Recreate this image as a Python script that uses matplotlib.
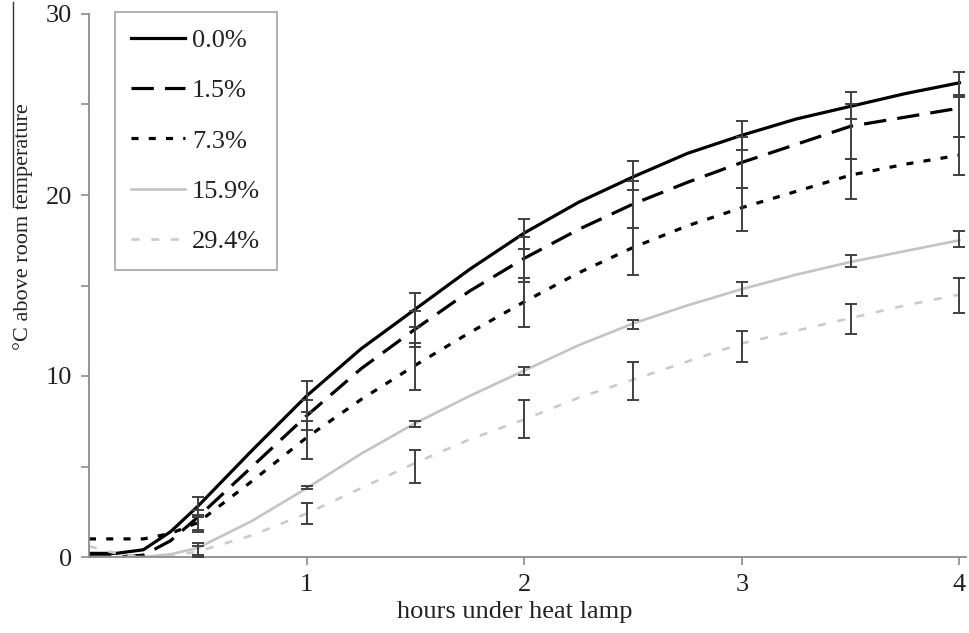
import matplotlib
matplotlib.use("Agg")
import matplotlib.pyplot as plt
from matplotlib.lines import Line2D
import numpy as np

plt.rcParams['font.family'] = ['Liberation Serif', 'DejaVu Serif']

# ---- data ----
curve_hours = [0, 0.125, 0.25, 0.375, 0.5, 0.75, 1, 1.25, 1.5, 1.75, 2,
               2.25, 2.5, 2.75, 3, 3.25, 3.5, 3.75, 4]
curve_00 = [0.2, 0.2, 0.4, 1.4, 2.8, 5.9, 8.9, 11.5, 13.7, 15.9, 17.9,
            19.6, 21.0, 22.3, 23.3, 24.2, 24.9, 25.6, 26.2]
curve_15 = [0.1, 0.0, 0.1, 0.9, 2.2, 5.0, 7.8, 10.4, 12.6, 14.7, 16.5,
            18.1, 19.5, 20.7, 21.8, 22.8, 23.8, 24.3, 24.8]
curve_73 = [1.0, 1.0, 1.0, 1.3, 1.9, 4.2, 6.6, 8.7, 10.6, 12.4, 14.1,
            15.7, 17.1, 18.3, 19.3, 20.2, 21.1, 21.7, 22.2]
curve_159 = [0.0, 0.0, 0.0, 0.15, 0.5, 2.0, 3.8, 5.7, 7.4, 8.9, 10.3,
             11.7, 12.9, 13.9, 14.8, 15.6, 16.3, 16.9, 17.5]
curve_294 = [0.6, 0.2, 0.0, 0.05, 0.3, 1.2, 2.4, 3.8, 5.2, 6.5, 7.6,
             8.8, 9.8, 10.8, 11.8, 12.5, 13.2, 13.9, 14.5]

bar_hours = [0.5, 1, 1.5, 2, 2.5, 3, 3.5, 4]
lo_00 = [2.2, 8.0, 12.7, 17.0, 20.3, 22.5, 24.2, 25.5]
hi_00 = [3.3, 9.7, 14.6, 18.7, 21.9, 24.1, 25.7, 26.8]
lo_15 = [1.4, 7.0, 11.6, 15.2, 18.2, 20.4, 22.0, 23.2]
hi_15 = [2.6, 8.7, 13.6, 17.7, 20.8, 23.2, 25.0, 25.4]
lo_73 = [1.5, 5.4, 9.2, 12.7, 15.6, 18.0, 19.8, 21.1]
hi_73 = [2.3, 7.5, 11.8, 15.4, 18.2, 20.4, 22.0, 23.2]
lo_159 = [0.1, 3.75, 7.2, 10.05, 12.6, 14.4, 16.0, 17.1]
hi_159 = [0.8, 3.95, 7.5, 10.5, 13.1, 15.2, 16.7, 18.0]
lo_294 = [0.0, 1.8, 4.1, 6.6, 8.7, 10.8, 12.3, 13.5]
hi_294 = [0.6, 3.0, 5.9, 8.7, 10.8, 12.5, 14.0, 15.4]

labels = ['0.0%', '1.5%', '7.3%', '15.9%', '29.4%']
x_ticks = [1, 2, 3, 4]
y_ticks = [0, 5, 10, 15, 20, 25, 30]
y_ticklabels = ['0', '', '10', '', '20', '', '30']

# ---- figure ----
fig = plt.figure(figsize=(9.70, 6.33), dpi=100)
ax = fig.add_axes([89/970, (633-557)/633, (966-89)/970, (557-14)/633])

curves = [curve_00, curve_15, curve_73, curve_159, curve_294]
styles = [
    dict(color='black', lw=2.3, ls='-'),
    dict(color='black', lw=2.3, ls=(0, (7, 3.5))),
    dict(color='black', lw=2.3, ls=(0, (2.2, 3.2))),
    dict(color='#c4c4c4', lw=1.9, ls='-'),
    dict(color='#cacaca', lw=1.9, ls=(0, (3, 4.5))),
]
for c, st, lab in zip(curves, styles, labels):
    ax.plot(curve_hours, c, label=lab, **st)

for lo, hi in [(lo_00, hi_00), (lo_15, hi_15), (lo_73, hi_73),
               (lo_159, hi_159), (lo_294, hi_294)]:
    lo = np.array(lo); hi = np.array(hi)
    ax.errorbar(bar_hours, (lo + hi) / 2, yerr=(hi - lo) / 2, fmt='none',
                ecolor='#404040', elinewidth=1.4, capsize=4, capthick=1.4,
                zorder=3)

ax.set_xlim(0, 4.03)
ax.set_ylim(0, 30)
ax.set_xticks(x_ticks)
ax.set_yticks(y_ticks)
ax.set_yticklabels(y_ticklabels)
for s in ['top', 'right']:
    ax.spines[s].set_visible(False)
for s in ['left', 'bottom']:
    ax.spines[s].set_color('#8c8c8c')
    ax.spines[s].set_linewidth(1.3)
ax.tick_params(direction='out', length=6, width=1.2, color='#8c8c8c',
               labelsize=19, labelcolor='#222222', pad=6)

fig.text(515/970, 1 - 612/633, 'hours under heat lamp', ha='center',
         va='center', fontsize=19, color='#222222')
fig.text(23/970, 1 - 227/633, '°C above room temperature', ha='center',
         va='center', rotation=90, fontsize=16, color='#222222')
fig.add_artist(Line2D([13/970, 13/970], [1 - 2/633, 1 - 207/633],
                      transform=fig.transFigure, color='#333333', lw=1.0))

leg = ax.legend(loc='upper left', bbox_to_anchor=(115/970, 1 - 12/633),
                bbox_transform=fig.transFigure, fontsize=19, frameon=True,
                fancybox=False, edgecolor='#8c8c8c', handlelength=2.05,
                handletextpad=0.25, labelspacing=1.02, borderpad=0.62,
                borderaxespad=0)
leg.get_frame().set_linewidth(1.2)
for t in leg.get_texts():
    t.set_color('#222222')

fig.savefig('out.png', dpi=100)
